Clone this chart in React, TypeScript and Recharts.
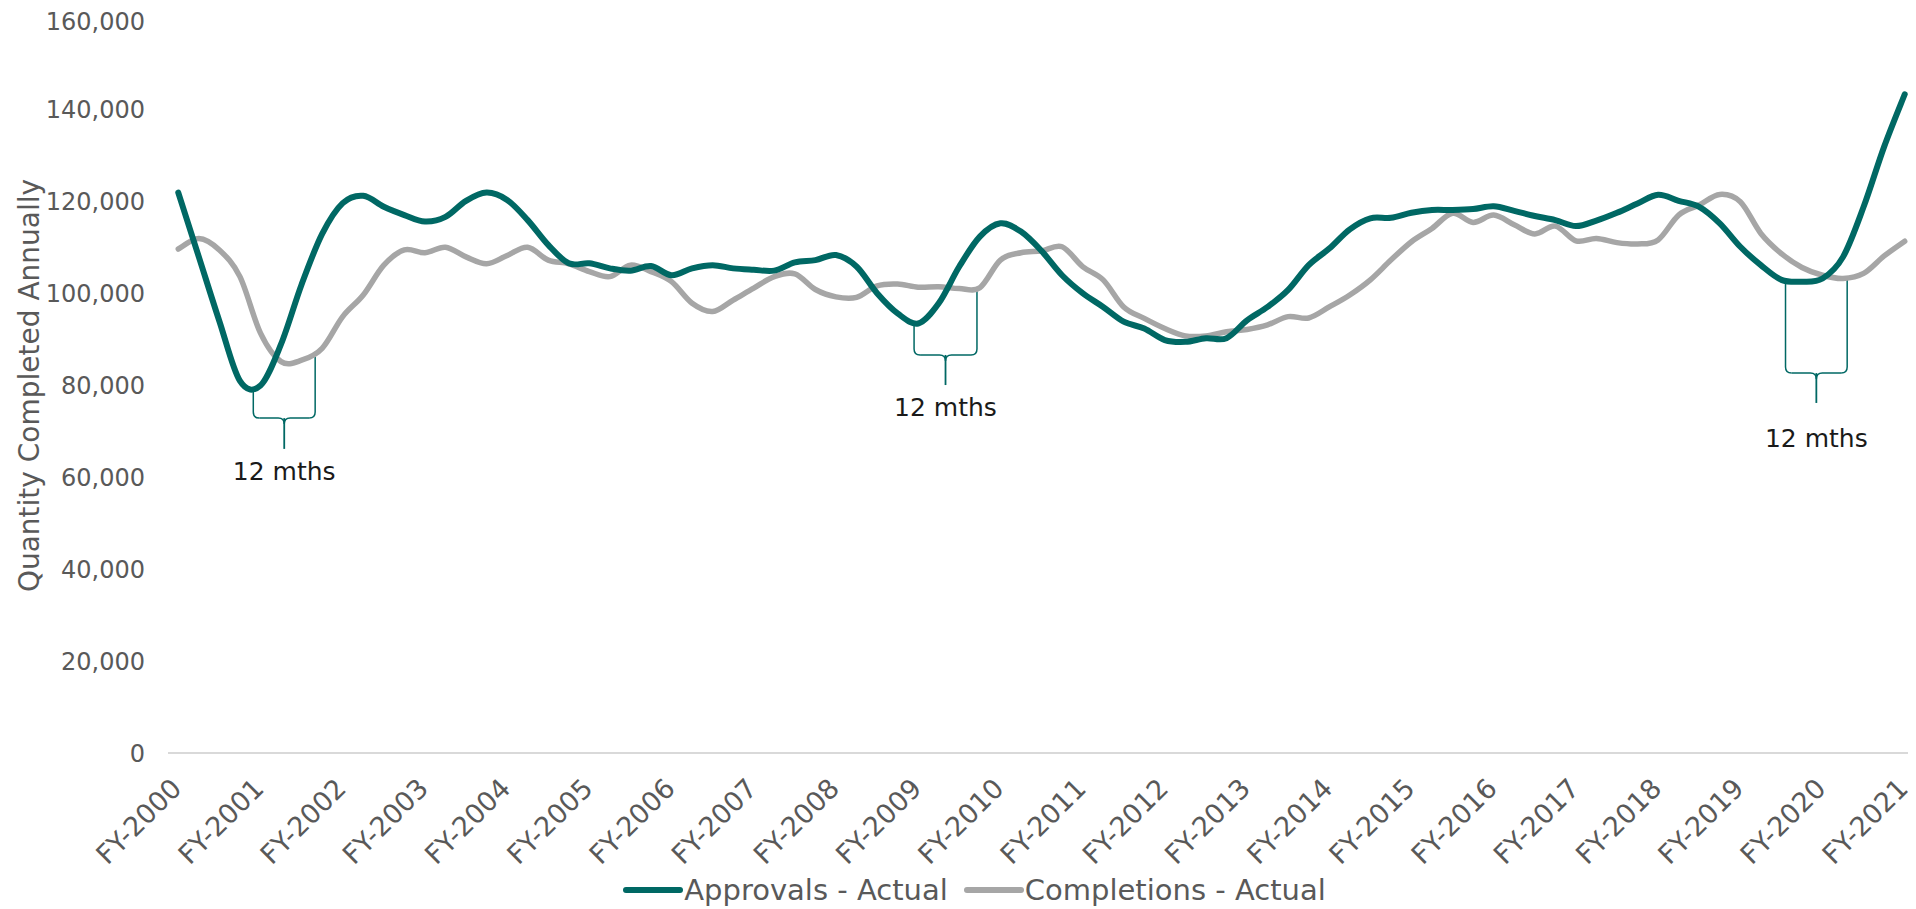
import {
  ComposedChart,
  Line,
  XAxis,
  YAxis,
  Legend,
  ReferenceLine,
  ReferenceDot,
} from "recharts";

const TEAL = "#006864";
const GREY = "#A6A6A6";
const AXIS_TEXT = "#595959";

// Financial-year labels, one per four quarters
const FY_LABELS = [
  "FY-2000", "FY-2001", "FY-2002", "FY-2003", "FY-2004", "FY-2005",
  "FY-2006", "FY-2007", "FY-2008", "FY-2009", "FY-2010", "FY-2011",
  "FY-2012", "FY-2013", "FY-2014", "FY-2015", "FY-2016", "FY-2017",
  "FY-2018", "FY-2019", "FY-2020", "FY-2021",
];

// Rolling annual totals, quarterly
const APPROVALS = [
  122000, 108000, 94000, 81000, 80000, 89000, 102000, 113000, 119700, 121300,
  118900, 117100, 115700, 116700, 120200, 122000, 120400, 116000, 110600, 106600,
  106600, 105500, 105000, 106000, 104000, 105500, 106200, 105500, 105200, 105000,
  106800, 107300, 108400, 105900, 100100, 95700, 93500, 97900, 105900, 112400,
  115300, 113500, 109300, 104000, 100100, 97100, 93900, 92400, 89900, 89500,
  90300, 90300, 94200, 97100, 100800, 106200, 109800, 114000, 116400, 116500,
  117600, 118200, 118200, 118400, 119000, 118000, 116900, 116000, 114700, 115900,
  117600, 119600, 121500, 120200, 118900, 115300, 110200, 106200, 103000, 102600,
  103300, 108000, 118900, 132000, 143400,
];

const COMPLETIONS = [
  109700, 112000, 109500, 103700, 91400, 85200, 85500, 88100, 95000, 99700,
  106200, 109500, 108900, 110100, 108000, 106500, 108300, 110100, 107300, 106500,
  104800, 103700, 106200, 104800, 102600, 97900, 96100, 98600, 101200, 103700,
  104300, 100900, 99300, 99200, 101700, 102100, 101400, 101500, 101100, 101300,
  107300, 108900, 109300, 110200, 105900, 103000, 97100, 94600, 92400, 90800,
  90800, 91700, 92200, 93200, 95000, 94700, 97100, 99700, 103000, 107300,
  111300, 114200, 117500, 115500, 117100, 115000, 113000, 114700, 111500, 112000,
  111100, 110800, 111700, 117100, 119300, 121600, 120000, 113100, 108700, 105700,
  104000, 103300, 104400, 108200, 111400,
];

const Y_TICKS = [0, 20000, 40000, 60000, 80000, 100000, 120000, 140000, 160000];

const SERIES = [
  { key: "approvals", name: "Approvals - Actual", color: TEAL },
  { key: "completions", name: "Completions - Actual", color: GREY },
];

// Lag braces between approvals and completions (x in quarters, y in dwellings)
const LAG_TEXT = "12 mths";
const BRACES = [
  { left: 3.65, right: 6.66, leftTop: 79000, rightTop: 86200, bar: 72900, tip: 66200, text: 59400 },
  { left: 35.8, right: 38.86, leftTop: 93200, rightTop: 101200, bar: 86650, tip: 80100, text: 73400 },
  { left: 78.2, right: 81.2, leftTop: 102300, rightTop: 103200, bar: 82700, tip: 76200, text: 66600 },
];

const data = APPROVALS.map((v, i) => ({
  q: i,
  approvals: v,
  completions: COMPLETIONS[i],
}));

const X_DOMAIN: [number, number] = [-0.5, APPROVALS.length - 0.5];
const BOUNDARY_TICKS = Array.from({ length: APPROVALS.length + 1 }, (_, i) => i - 0.5);
const LABEL_TICKS = FY_LABELS.map((_, k) => k * 4);

const CORNER = 6;

// Catmull-Rom style smoothing (passes through every point, like a spreadsheet "smoothed line")
const smoothCurve = (context: any) => {
  let pts: number[][] = [];
  return {
    areaStart() {},
    areaEnd() {},
    lineStart() {
      pts = [];
    },
    point(x: number, y: number) {
      pts.push([+x, +y]);
    },
    lineEnd() {
      if (!pts.length) return;
      context.moveTo(pts[0][0], pts[0][1]);
      for (let i = 0; i < pts.length - 1; i++) {
        const p0 = pts[i - 1] || pts[i];
        const p1 = pts[i];
        const p2 = pts[i + 1];
        const p3 = pts[i + 2] || p2;
        context.bezierCurveTo(
          p1[0] + (p2[0] - p0[0]) / 6,
          p1[1] + (p2[1] - p0[1]) / 6,
          p2[0] - (p3[0] - p1[0]) / 6,
          p2[1] - (p3[1] - p1[1]) / 6,
          p2[0],
          p2[1]
        );
      }
    },
  };
};

const FyTick = ({ x, y, payload }: any) => {
  const label = FY_LABELS[Math.round(payload.value / 4)];
  const ax = x + 5;
  const ay = y + 29;
  return (
    <text
      x={ax}
      y={ay}
      transform={`rotate(-45, ${ax}, ${ay})`}
      textAnchor="end"
      fill={AXIS_TEXT}
      fontSize={27}
    >
      {label}
    </text>
  );
};

const YTitle = ({ viewBox }: any) => {
  const x = viewBox.x + 21;
  const y = viewBox.y + viewBox.height / 2;
  return (
    <text
      x={x}
      y={y}
      transform={`rotate(-90, ${x}, ${y})`}
      textAnchor="middle"
      dominantBaseline="central"
      fill={AXIS_TEXT}
      fontSize={28}
    >
      Quantity Completed Annually
    </text>
  );
};

// vertical leg of a brace, curling toward the middle at the bottom
const legShape = (dir: number) => (p: any) => (
  <path
    d={`M ${p.x1} ${p.y1} L ${p.x2} ${p.y2 - CORNER} Q ${p.x2} ${p.y2} ${p.x2 + dir * CORNER} ${p.y2}`}
    stroke={TEAL}
    strokeWidth={1.5}
    fill="none"
  />
);

// horizontal bar of a brace, curling into the centre spike
const barShape = (p: any) => {
  const y = p.y1;
  const xc = (p.x1 + p.x2) / 2;
  return (
    <path
      d={`M ${p.x1 + CORNER} ${y} L ${xc - CORNER} ${y} Q ${xc} ${y} ${xc} ${y + CORNER}
          M ${p.x2 - CORNER} ${y} L ${xc + CORNER} ${y} Q ${xc} ${y} ${xc} ${y + CORNER}`}
      stroke={TEAL}
      strokeWidth={1.5}
      fill="none"
    />
  );
};

const lagText = (p: any) => (
  <text x={p.cx} y={p.cy} textAnchor="middle" fill="#1a1a1a" fontSize={25}>
    {LAG_TEXT}
  </text>
);

const LegendContent = () => (
  <div
    style={{
      display: "flex",
      justifyContent: "center",
      alignItems: "center",
      height: 34,
      paddingLeft: 26,
      fontSize: 29,
      color: AXIS_TEXT,
    }}
  >
    {SERIES.map((s, i) => (
      <div
        key={s.key}
        style={{ display: "flex", alignItems: "center", marginLeft: i ? 16 : 0 }}
      >
        <svg width={60} height={10}>
          <line x1={3} y1={5} x2={57} y2={5} stroke={s.color} strokeWidth={6} strokeLinecap="round" />
        </svg>
        <span style={{ marginLeft: 1 }}>{s.name}</span>
      </div>
    ))}
  </div>
);

export default function App() {
  return (
    <div style={{ fontFamily: "'DejaVu Sans', Verdana, sans-serif" }}>
      <ComposedChart
        width={1908}
        height={901}
        data={data}
        margin={{ top: 10, right: 1, left: 0, bottom: 2 }}
      >
        <XAxis
          xAxisId="axisB"
          type="number"
          dataKey="q"
          domain={X_DOMAIN}
          ticks={LABEL_TICKS}
          interval={0}
          axisLine={false}
          tickLine={false}
          tickSize={0}
          tickMargin={0}
          height={112}
          tick={<FyTick />}
        />
        <XAxis
          xAxisId="axisA"
          type="number"
          dataKey="q"
          domain={X_DOMAIN}
          ticks={BOUNDARY_TICKS}
          interval={0}
          tick={false}
          tickSize={7}
          height={8}
          axisLine={{ stroke: "#D9D9D9", strokeWidth: 2 }}
          tickLine={{ stroke: "#D9D9D9", strokeWidth: 2 }}
        />
        <YAxis
          domain={[0, 160000]}
          ticks={Y_TICKS}
          axisLine={false}
          tickLine={false}
          tickSize={0}
          tickMargin={23}
          width={160}
          tickFormatter={(v: number) => v.toLocaleString("en-US")}
          tick={{ fill: AXIS_TEXT, fontSize: 24 }}
          label={<YTitle />}
        />
        <Legend verticalAlign="bottom" content={<LegendContent />} />

        {BRACES.map((b, i) => {
          const mid = (b.left + b.right) / 2;
          return [
            <ReferenceLine
              key={`l${i}`}
              xAxisId="axisB"
              segment={[{ x: b.left, y: b.leftTop }, { x: b.left, y: b.bar }]}
              shape={legShape(1)}
            />,
            <ReferenceLine
              key={`r${i}`}
              xAxisId="axisB"
              segment={[{ x: b.right, y: b.rightTop }, { x: b.right, y: b.bar }]}
              shape={legShape(-1)}
            />,
            <ReferenceLine
              key={`b${i}`}
              xAxisId="axisB"
              segment={[{ x: b.left, y: b.bar }, { x: b.right, y: b.bar }]}
              shape={barShape}
            />,
            <ReferenceLine
              key={`s${i}`}
              xAxisId="axisB"
              segment={[{ x: mid, y: b.bar }, { x: mid, y: b.tip }]}
              stroke={TEAL}
              strokeWidth={1.8}
            />,
            <ReferenceDot
              key={`t${i}`}
              xAxisId="axisB"
              x={mid}
              y={b.text}
              shape={lagText}
            />,
          ];
        })}

        <Line
          xAxisId="axisB"
          type={smoothCurve as any}
          dataKey="completions"
          name="Completions - Actual"
          stroke={GREY}
          strokeWidth={5.5}
          strokeLinecap="round"
          dot={false}
          activeDot={false}
          isAnimationActive={false}
        />
        <Line
          xAxisId="axisB"
          type={smoothCurve as any}
          dataKey="approvals"
          name="Approvals - Actual"
          stroke={TEAL}
          strokeWidth={6}
          strokeLinecap="round"
          dot={false}
          activeDot={false}
          isAnimationActive={false}
        />
      </ComposedChart>
    </div>
  );
}
